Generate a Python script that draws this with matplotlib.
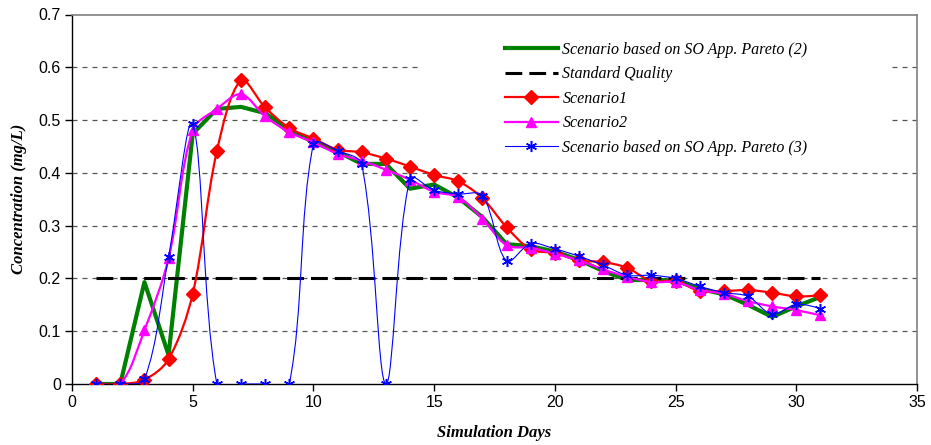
import numpy as np
import matplotlib
matplotlib.use("Agg")
import matplotlib.pyplot as plt
from matplotlib.path import Path
from matplotlib.patches import PathPatch, Rectangle
from matplotlib.lines import Line2D

days = list(range(1, 32))
pareto2 = [0, 0, 0.193, 0.055, 0.474, 0.521, 0.525, 0.513, 0.482, 0.458, 0.440,
           0.417, 0.417, 0.370, 0.378, 0.353, 0.316, 0.265, 0.261, 0.251, 0.235,
           0.214, 0.197, 0.197, 0.196, 0.180, 0.170, 0.150, 0.127, 0.147, 0.165]
scenario1 = [0, 0, 0.008, 0.047, 0.171, 0.441, 0.575, 0.524, 0.485, 0.465, 0.444,
             0.439, 0.427, 0.412, 0.396, 0.384, 0.352, 0.297, 0.255, 0.248, 0.234,
             0.231, 0.220, 0.195, 0.195, 0.176, 0.176, 0.178, 0.173, 0.166, 0.168]
scenario2 = [0, 0, 0.102, 0.238, 0.481, 0.521, 0.549, 0.507, 0.477, 0.458, 0.436,
             0.423, 0.406, 0.387, 0.364, 0.354, 0.313, 0.263, 0.258, 0.247, 0.234,
             0.217, 0.203, 0.193, 0.193, 0.178, 0.171, 0.157, 0.147, 0.140, 0.130]
pareto3 = [0, 0, 0.009, 0.241, 0.493, 0, 0, 0, 0, 0.455, 0.442,
           0.416, 0, 0.389, 0.367, 0.360, 0.357, 0.233, 0.266, 0.256, 0.242,
           0.225, 0.206, 0.206, 0.200, 0.185, 0.173, 0.166, 0.132, 0.151, 0.143]
standard = [0.2] * len(days)

labels = ["Scenario based on SO App. Pareto (2)", "Standard Quality",
          "Scenario1", "Scenario2", "Scenario based on SO App. Pareto (3)"]
xticks = [0, 5, 10, 15, 20, 25, 30, 35]
yticks = [0, 0.1, 0.2, 0.3, 0.4, 0.5, 0.6, 0.7]

fig = plt.figure(figsize=(9.31, 4.45), dpi=100)
ax = fig.add_axes([72/931, 61/445, (917-72)/931, (384-14.5)/445])
ax.set_xlim(0, 35)
ax.set_ylim(0, 0.7)

sans = "Liberation Sans"
serif = "Liberation Serif"

GREEN, RED, MAG, BLUE = "#008000", "#ff0000", "#ff00ff", "#0000ff"
STD_DASH = (0, (5.5, 2.3))


def smooth_path(xs, ys):
    """Excel-like smoothed line as a cubic Bezier path (computed in display space)."""
    pts = ax.transData.transform(np.column_stack([xs, ys]))
    n = len(pts)
    k = 1.0 / 3.0
    verts = [pts[0]]
    codes = [Path.MOVETO]
    for i in range(n - 1):
        p1, p2 = pts[i], pts[i + 1]
        p0 = pts[i - 1] if i > 0 else pts[i]
        p3 = pts[i + 2] if i + 2 < n else pts[i + 1]
        l1 = np.hypot(*(p1 - p0)); l2 = np.hypot(*(p2 - p1))
        s = l2 / (l1 + l2) if (l1 + l2) > 0 else 0.5
        c1 = p1 + (p2 - p0) * s * k if i > 0 else p1
        l1b = np.hypot(*(p2 - p1)); l2b = np.hypot(*(p3 - p2))
        sb = l1b / (l1b + l2b) if (l1b + l2b) > 0 else 0.5
        c2 = p2 - (p3 - p1) * sb * k if i + 2 < n else p2
        verts += [c1, c2, p2]
        codes += [Path.CURVE4] * 3
    inv = ax.transData.inverted()
    return Path(inv.transform(np.array(verts)), codes)


# gridlines
for yv in yticks[1:-1]:
    ax.axhline(yv, color="#555555", lw=0.9, ls=(0, (4, 4)), zorder=0.5)

# legend background (covers gridlines)
ax.add_patch(Rectangle(((420-72)/845, (384-160)/369.5), (888-420)/845, (160-25)/369.5,
                       transform=ax.transAxes, facecolor="white", edgecolor="none", zorder=1))

ax.plot(days, pareto2, color=GREEN, lw=3.0, zorder=3)
ax.plot(days, standard, color="black", lw=2.2, ls=STD_DASH, zorder=3)

for ys, col, lw, mk, ms, z in [
        (scenario1, RED, 1.6, "D", 7, 4),
        (scenario2, MAG, 1.6, "^", 7, 5),
        (pareto3, BLUE, 0.8, (6, 2, 0), 8, 6)]:
    ax.add_patch(PathPatch(smooth_path(days, ys), facecolor="none", edgecolor=col,
                           lw=lw, zorder=z))
    ax.plot(days, ys, ls="none", marker=mk, ms=ms, color=col, mec=col,
            mew=1.1 if mk == (6, 2, 0) else 1.0, zorder=z)

# spines
for s in ["top", "right"]:
    ax.spines[s].set_color("#808080")
    ax.spines[s].set_linewidth(1.2)
for s in ["left", "bottom"]:
    ax.spines[s].set_color("black")
    ax.spines[s].set_linewidth(1.0)

ax.set_xticks(xticks)
ax.set_yticks(yticks)
ax.set_xticklabels([str(v) for v in xticks], fontfamily=sans, fontsize=11.5)
ax.set_yticklabels(["0" if v == 0 else f"{v:.1f}" for v in yticks], fontfamily=sans, fontsize=11.5)
ax.tick_params(direction="out", length=5, width=1, color="black", pad=3)

ax.set_xlabel("Simulation Days", fontfamily=serif, fontstyle="italic",
              fontweight="bold", fontsize=12, labelpad=11)
ax.set_ylabel("Concentration (mg/L)", fontfamily=serif, fontstyle="italic",
              fontweight="bold", fontsize=12, labelpad=8)

handles = [
    Line2D([], [], color=GREEN, lw=3.0),
    Line2D([], [], color="black", lw=2.2, ls=STD_DASH),
    Line2D([], [], color=RED, lw=1.6, marker="D", ms=7),
    Line2D([], [], color=MAG, lw=1.6, marker="^", ms=7),
    Line2D([], [], color=BLUE, lw=0.8, marker=(6, 2, 0), ms=8, mew=1.1),
]
leg = ax.legend(handles, labels, loc="upper left",
                bbox_to_anchor=((497-72)/845, (384-34)/369.5),
                frameon=False, prop={"family": serif, "style": "italic", "size": 11.5},
                handlelength=3.3, handletextpad=0.3, labelspacing=0.53, borderpad=0)
leg.set_zorder(10)

fig.savefig("out.png", dpi=100)
